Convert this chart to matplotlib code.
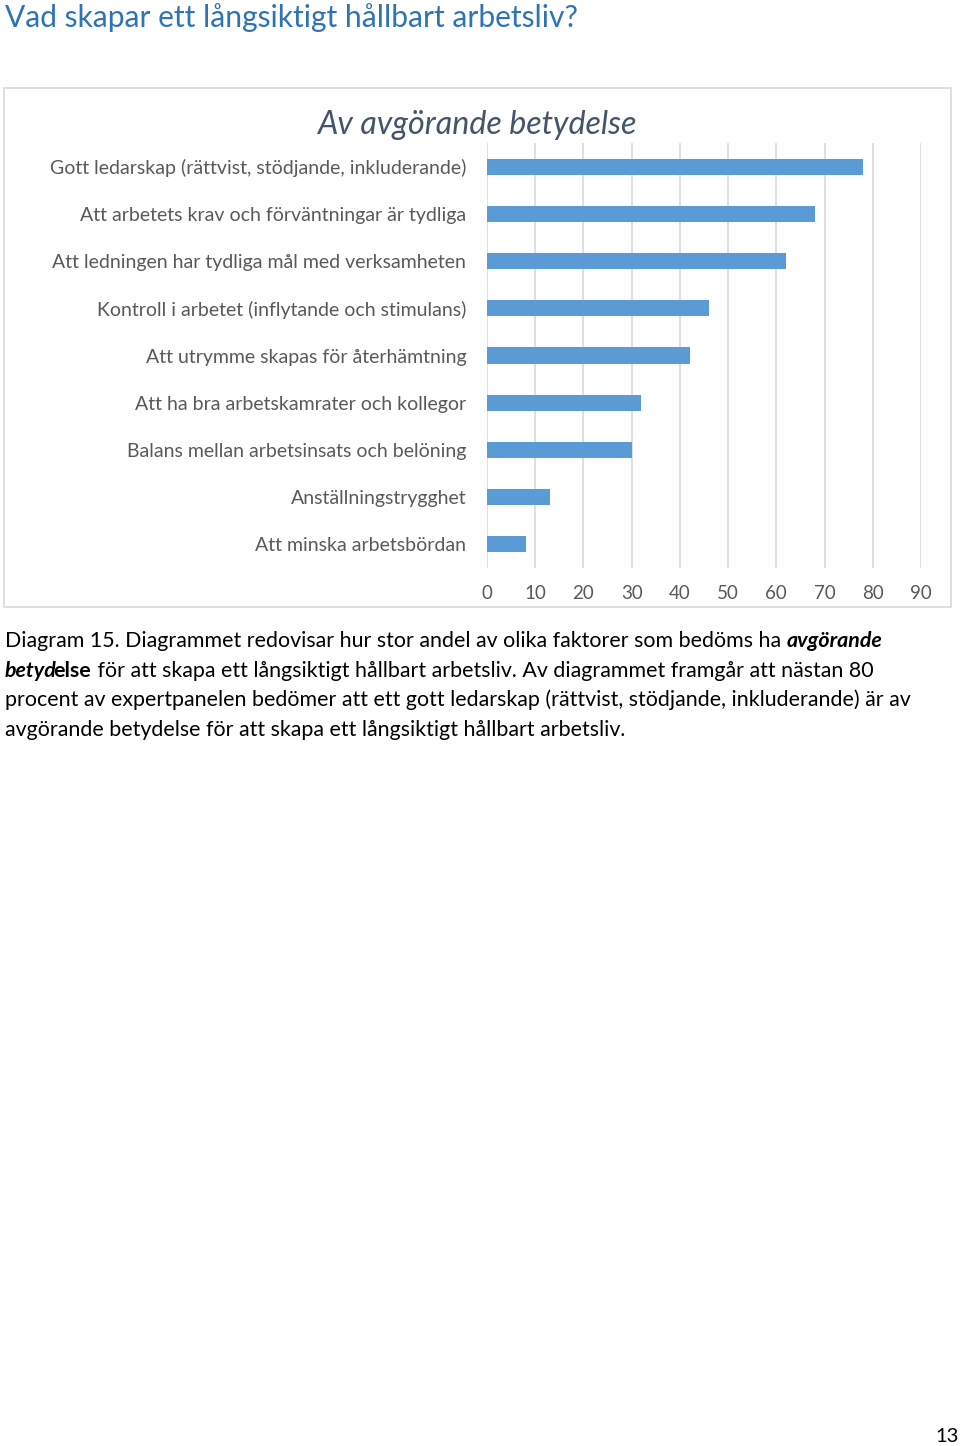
import matplotlib
matplotlib.use('Agg')
import matplotlib.pyplot as plt
from matplotlib.patches import Rectangle

plt.rcParams['font.family'] = ['Lato', 'DejaVu Sans']

# データ
categories = [
    "Gott ledarskap (rättvist, stödjande, inkluderande)",
    "Att arbetets krav och förväntningar är tydliga",
    "Att ledningen har tydliga mål med verksamheten",
    "Kontroll i arbetet (inflytande och stimulans)",
    "Att utrymme skapas för återhämtning",
    "Att ha bra arbetskamrater och kollegor",
    "Balans mellan arbetsinsats och belöning",
    "Anställningstrygghet",
    "Att minska arbetsbördan",
]
values = [78, 68, 62, 46, 42, 32, 30, 13, 8]
x_ticks = [0, 10, 20, 30, 40, 50, 60, 70, 80, 90]

page_title = "Vad skapar ett långsiktigt hållbart arbetsliv?"
chart_title = "Av avgörande betydelse"
page_number = "13"

W, H = 960, 1446
fig = plt.figure(figsize=(W / 100, H / 100), dpi=100)


def fx(px):
    return px / W


def fy(py):
    return 1 - py / H


# 枠
fig.patches.append(Rectangle((fx(4), fy(607)), fx(951) - fx(4), fy(88) - fy(607),
                             transform=fig.transFigure, fill=False,
                             edgecolor='#D9D9D9', linewidth=1.2))

ax = fig.add_axes([fx(487), fy(568), fx(921) - fx(487), fy(143) - fy(568)])
ax.barh(range(len(values)), values, height=0.34, color='#5B9BD5', zorder=3)
ax.set_xlim(0, 90)
ax.set_ylim(8.5, -0.5)
ax.set_xticks(x_ticks)
ax.set_yticks(range(len(categories)))
ax.set_yticklabels(categories)
ax.grid(axis='x', color='#D9D9D9', linewidth=1.2, zorder=0)
for s in ax.spines.values():
    s.set_visible(False)
ax.tick_params(axis='both', length=0, colors='#595959', labelsize=14)
ax.tick_params(axis='x', labelsize=13.5, pad=12)
ax.tick_params(axis='y', pad=15)

fig.text(fx(477), fy(125), chart_title, ha='center', va='center',
         fontsize=23.2, style='italic', color='#44546A')

fig.text(fx(5), fy(18), page_title, ha='left', va='center',
         fontsize=21.6, color='#2E74B5')

fig.text(fx(959), fy(1437), page_number, ha='right', va='center',
         fontsize=14.5, color='black')

# キャプション(太字・斜体を混在)
cap_size = 15.4
lines = [
    [("Diagram 15. Diagrammet redovisar hur stor andel av olika faktorer som bedöms ha ", 'normal', 'normal'),
     ("avgörande", 'bold', 'italic')],
    [("betyd", 'bold', 'italic'), ("else", 'bold', 'normal'),
     (" för att skapa ett långsiktigt hållbart arbetsliv. Av diagrammet framgår att nästan 80", 'normal', 'normal')],
    [("procent av expertpanelen bedömer att ett gott ledarskap (rättvist, stödjande, inkluderande) är av", 'normal', 'normal')],
    [("avgörande betydelse för att skapa ett långsiktigt hållbart arbetsliv.", 'normal', 'normal')],
]
line_y = [641, 671, 700, 730]

renderer = fig.canvas.get_renderer()
for segs, yy in zip(lines, line_y):
    x = fx(5)
    for txt, weight, style in segs:
        t = fig.text(x, fy(yy), txt, ha='left', va='center', fontsize=cap_size,
                     fontweight=weight, style=style, color='black')
        bb = t.get_window_extent(renderer=renderer)
        x += bb.width / W
        if style == 'italic':
            x -= fx(3)  # 斜体のはみ出し分を詰める

fig.savefig('out.png', dpi=100)
